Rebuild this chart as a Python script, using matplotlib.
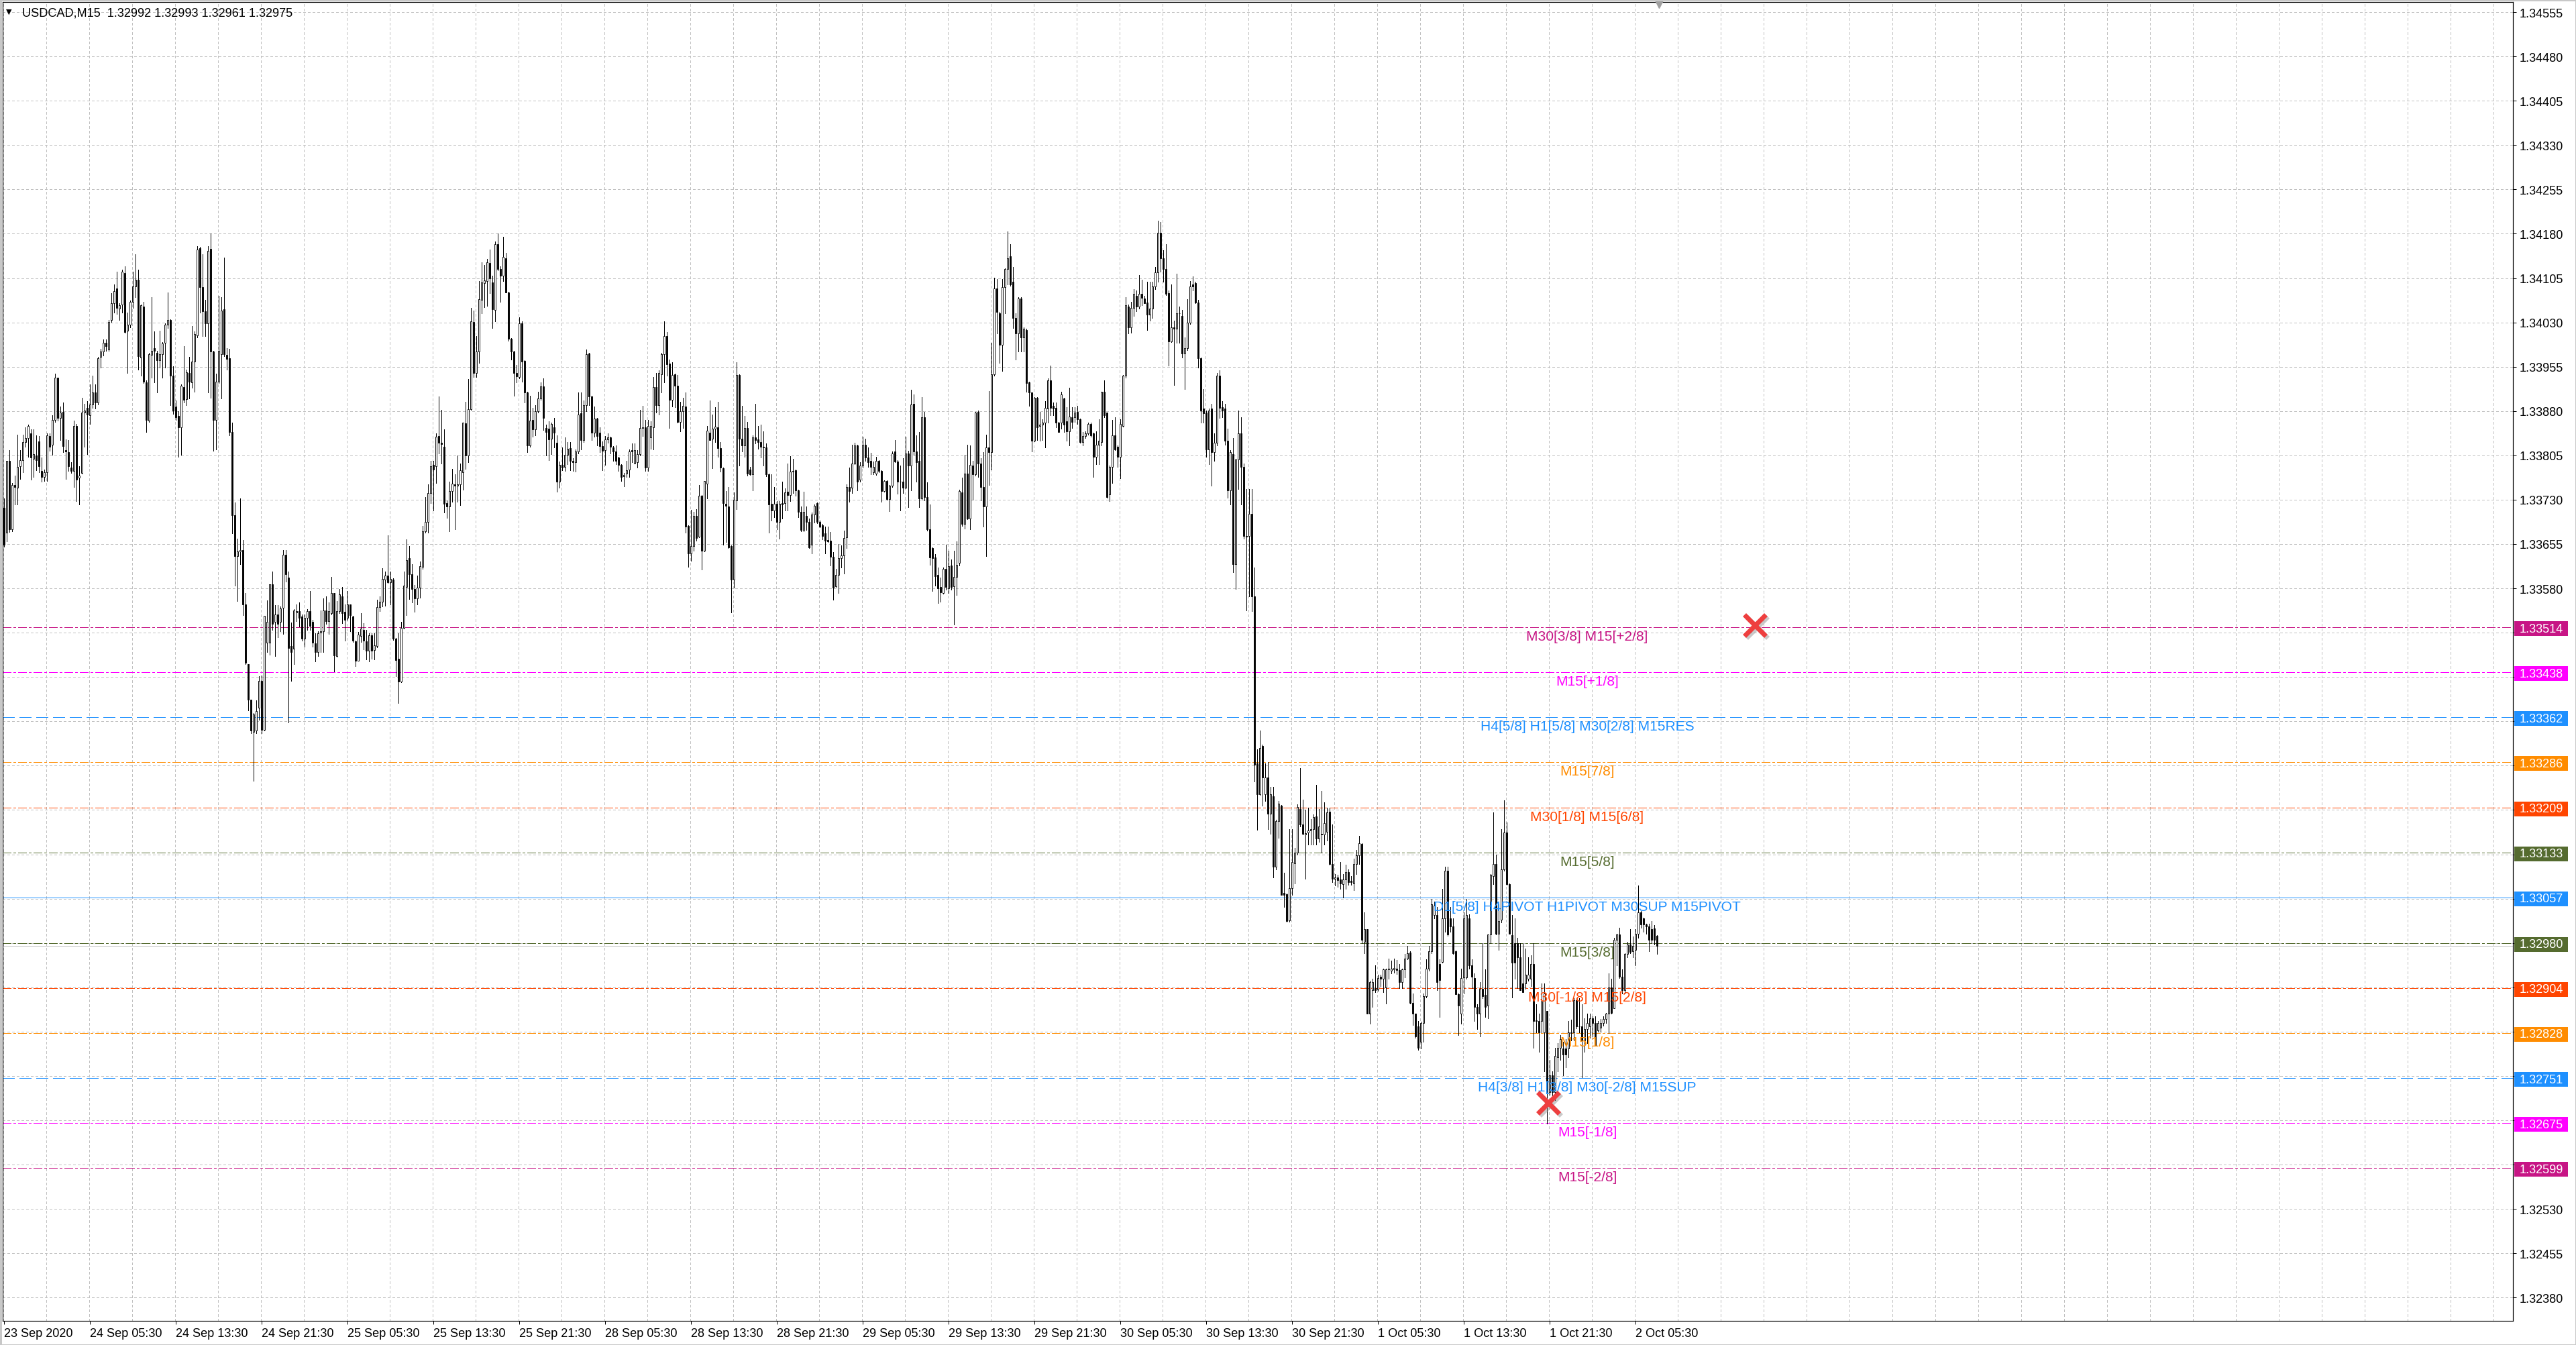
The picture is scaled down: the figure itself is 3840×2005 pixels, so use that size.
import numpy as np
import matplotlib
matplotlib.use("Agg")
import matplotlib.pyplot as plt
from matplotlib.patches import Rectangle
from matplotlib.lines import Line2D
from matplotlib.transforms import IdentityTransform, offset_copy

W, H, DPI = 3840, 2006, 100
PX = 72.0 / DPI  # points per pixel

plt.rcParams["font.family"] = ["Liberation Sans", "DejaVu Sans"]

# ---------------- data (prices in points above 1.30000) ----------------
SYMBOL = "USDCAD,M15"
PRICE_BASE = 1.30000
POINT = 0.00001

opens = [
    3716,3674,3796,3680,3755,3750,3787,3797,3827,3834,
    3842,3799,3805,3829,3779,3769,3777,3838,3823,3865,
    3937,3868,3879,3814,3810,3784,3779,3855,3767,3775,
    3877,3885,3873,3891,3912,3894,3972,3981,3996,3984,
    4034,4063,4088,4053,4060,4114,4016,4026,4065,4091,
    4102,3971,4057,3929,3864,3975,3987,3979,3966,3976,
    3995,4026,4034,3940,3888,3872,3852,3921,3900,3945,
    3929,3964,4008,4155,4090,4049,4028,4154,3981,3865,
    3930,3976,4052,3975,3969,3844,3704,3634,3643,3645,
    3553,3452,3392,3337,3340,3378,3423,3341,3488,3488,
    3587,3523,3536,3523,3547,3637,3598,3482,3478,3539,
    3542,3532,3495,3530,3541,3523,3487,3472,3505,3507,
    3543,3525,3538,3572,3466,3541,3567,3540,3530,3553,
    3532,3490,3458,3500,3510,3490,3475,3501,3476,3483,
    3548,3557,3595,3602,3590,3595,3495,3461,3422,3513,
    3582,3631,3604,3579,3563,3581,3616,3677,3692,3741,
    3789,3787,3838,3826,3820,3724,3718,3745,3756,3754,
    3756,3776,3859,3805,3883,4031,3944,3981,4068,4097,
    4100,4131,4098,4051,4162,4120,4109,4139,4081,4002,
    3981,3945,3938,4028,3965,3911,3822,3865,3849,3880,
    3901,3922,3851,3850,3833,3853,3826,3760,3789,3786,
    3806,3817,3796,3793,3812,3876,3831,3890,3977,3905,
    3843,3867,3843,3821,3814,3832,3836,3818,3812,3801,
    3789,3770,3774,3781,3814,3791,3793,3807,3851,3853,
    3784,3836,3853,3921,3890,3942,3976,4007,3960,3899,
    3942,3923,3862,3880,3888,3686,3639,3652,3703,3668,
    3737,3644,3757,3843,3833,3850,3853,3817,3783,3723,
    3719,3652,3595,3729,3941,3833,3822,3851,3781,3773,
    3836,3832,3828,3820,3818,3773,3723,3712,3723,3693,
    3724,3724,3743,3738,3778,3780,3746,3710,3679,3703,
    3693,3654,3705,3724,3692,3687,3673,3662,3661,3633,
    3583,3603,3631,3636,3666,3752,3750,3791,3822,3764,
    3788,3823,3801,3796,3776,3774,3796,3779,3745,3762,
    3731,3754,3812,3795,3760,3761,3750,3808,3788,3892,
    3812,3796,3732,3869,3735,3680,3648,3632,3603,3582,
    3572,3613,3580,3619,3584,3599,3623,3742,3689,3774,
    3698,3788,3773,3879,3791,3752,3718,3818,3811,3942,
    4088,4046,3992,4090,4120,4142,4099,4037,4011,4070,
    4005,4017,3929,3911,3830,3903,3855,3857,3860,3884,
    3932,3889,3885,3861,3861,3901,3863,3846,3870,3870,
    3879,3866,3828,3838,3842,3858,3842,3802,3823,3828,
    3913,3877,3739,3786,3839,3820,3802,3855,3940,4057,
    4022,4054,4075,4057,4078,4070,4064,4043,4053,4091,
    4115,4182,4139,4120,4080,3998,4022,4019,4045,4041,
    3977,3987,4030,4094,4096,4064,3969,3884,3877,3815,
    3884,3810,3826,3940,3887,3884,3830,3746,3807,3621,
    3798,3842,3786,3669,3669,3706,3567,3284,3232,3313,
    3232,3260,3199,3228,3109,3186,3212,3065,3063,3018,
    3073,3115,3133,3207,3181,3164,3167,3170,3173,3194,
    3157,3165,3164,3168,3202,3113,3089,3091,3088,3079,
    3088,3100,3085,3081,3114,3128,3148,2982,3003,2860,
    2900,2904,2901,2923,2919,2905,2935,2933,2935,2937,
    2934,2914,2935,2954,2964,2879,2860,2839,2813,2844,
    2890,2937,2966,3027,3027,2945,2948,3022,3102,3022,
    3008,2966,2893,2860,2922,2922,3022,2942,2921,2872,
    2860,2902,2892,2874,2994,3093,3114,2996,3019,3104,
    3167,3079,2993,2980,2980,2956,2912,2912,2919,2919,
    2944,2849,2848,2848,2829,2865,2728,2756,2728,2787,
    2803,2801,2801,2801,2827,2829,2883,2839,2839,2815,
    2834,2839,2853,2844,2832,2837,2844,2851,2860,2905,
    2869,2985,2994,2923,2900,2961,2977,2966,2968,2996,
    3032,3022,3011,3008,3003,3005,2992,
]

highs = [
    3732,3796,3814,3758,3771,3840,3814,3840,3852,3857,
    3849,3849,3839,3838,3801,3781,3842,3842,3873,3943,
    3937,3888,3894,3832,3831,3794,3864,3858,3787,3903,
    3892,3897,3925,3940,3925,3972,3985,4001,4001,4034,
    4080,4094,4116,4063,4119,4125,4047,4067,4116,4145,
    4119,4060,4065,3932,3979,4073,4015,3982,4016,3997,
    4029,4081,4035,3956,3898,3880,3925,3990,3950,3972,
    4024,4015,4159,4158,4145,4068,4159,4180,3982,3943,
    4075,4073,4140,3986,3985,3860,3725,3664,3732,3662,
    3572,3452,3392,3369,3391,3431,3432,3533,3560,3587,
    3608,3552,3552,3550,3645,3645,3608,3522,3545,3553,
    3556,3536,3536,3545,3575,3527,3504,3507,3543,3563,
    3566,3556,3599,3572,3558,3579,3582,3553,3576,3553,
    3534,3492,3506,3538,3521,3510,3504,3504,3504,3561,
    3567,3614,3608,3670,3609,3597,3496,3504,3523,3609,
    3663,3652,3621,3586,3602,3625,3686,3735,3756,3796,
    3796,3842,3905,3882,3849,3729,3760,3782,3773,3805,
    3791,3861,3896,3934,4055,4050,4007,4100,4132,4127,
    4137,4153,4109,4167,4181,4125,4175,4148,4082,4003,
    3982,3958,4039,4032,3966,3913,3906,3885,3890,3913,
    3929,3935,3857,3863,3861,3868,3839,3795,3819,3836,
    3828,3828,3800,3815,3911,3912,3898,3984,3978,3906,
    3888,3868,3853,3829,3838,3842,3837,3821,3822,3802,
    3790,3775,3796,3815,3825,3825,3814,3882,3889,3865,
    3865,3863,3938,3944,3949,3979,4032,4014,3967,3963,
    3943,3941,3896,3902,3911,3687,3713,3710,3714,3755,
    3738,3762,3855,3898,3874,3887,3896,3827,3784,3745,
    3751,3653,3742,3963,3942,3889,3872,3862,3785,3839,
    3892,3855,3857,3846,3825,3774,3773,3752,3728,3728,
    3760,3749,3791,3804,3799,3781,3747,3719,3744,3719,
    3698,3708,3722,3725,3695,3689,3684,3684,3675,3641,
    3613,3655,3653,3678,3756,3784,3823,3826,3823,3793,
    3837,3833,3819,3809,3795,3803,3797,3780,3763,3763,
    3755,3812,3831,3797,3788,3800,3837,3813,3916,3908,
    3839,3844,3904,3879,3759,3722,3649,3638,3615,3598,
    3615,3654,3644,3629,3644,3660,3747,3767,3806,3823,
    3822,3796,3879,3881,3800,3810,3840,3914,3996,4106,
    4103,4048,4103,4122,4184,4162,4124,4045,4073,4073,
    4022,4019,3930,3912,3904,3904,3879,3866,3897,3935,
    3957,3895,3895,3862,3913,3902,3887,3919,3887,3887,
    3889,3867,3845,3846,3860,3860,3843,3846,3866,3913,
    3932,3878,3788,3865,3869,3822,3866,3941,4073,4060,
    4065,4086,4084,4110,4102,4075,4099,4099,4099,4124,
    4202,4200,4152,4162,4084,4094,4033,4112,4057,4051,
    4005,4069,4100,4108,4099,4068,3970,3917,3881,3884,
    3892,3842,3945,3949,3897,3892,3850,3814,3834,3799,
    3881,3869,3791,3748,3748,3748,3615,3308,3339,3316,
    3284,3286,3244,3244,3189,3220,3213,3099,3064,3173,
    3173,3141,3215,3276,3223,3205,3209,3190,3197,3248,
    3207,3237,3218,3209,3209,3181,3097,3095,3117,3097,
    3112,3105,3093,3123,3137,3161,3149,3032,3004,2916,
    2919,2942,2926,2926,2937,2937,2954,2950,2953,2951,
    2945,2937,2961,2975,2966,2895,2861,2848,2847,2895,
    2952,2975,3055,3050,3041,2952,3072,3109,3109,3041,
    3022,2967,2895,2937,3032,3055,3029,2952,2928,2876,
    2914,2980,2935,2994,3096,3201,3130,3046,3173,3221,
    3184,3081,3027,3022,2989,2980,2980,2970,2956,2959,
    2980,2876,2860,2912,2912,2865,2782,2763,2803,2810,
    2824,2813,2817,2848,2850,2886,2886,2886,2876,2853,
    2860,2860,2856,2856,2848,2851,2856,2862,2928,2919,
    2989,2996,3006,2935,2963,2982,3003,2991,3003,3077,
    3034,3023,3013,3013,3017,3010,2993,
]

lows = [
    3650,3660,3675,3677,3722,3722,3765,3777,3820,3803,
    3764,3769,3780,3777,3760,3762,3762,3813,3806,3862,
    3864,3831,3810,3765,3779,3775,3751,3728,3722,3774,
    3820,3807,3858,3885,3884,3891,3953,3974,3982,3982,
    4031,4047,4044,4034,4047,4012,3945,4022,4055,4073,
    3950,3940,3927,3845,3862,3937,3928,3912,3953,3936,
    3953,4021,3890,3875,3865,3803,3806,3894,3890,3901,
    3919,3913,4005,4047,4007,4007,3911,3903,3813,3815,
    3927,3901,3973,3950,3839,3673,3585,3559,3621,3535,
    3452,3374,3335,3254,3335,3358,3335,3339,3472,3468,
    3510,3465,3497,3507,3503,3592,3353,3424,3452,3525,
    3515,3491,3481,3510,3510,3481,3456,3465,3472,3472,
    3520,3503,3536,3439,3464,3538,3521,3492,3527,3507,
    3489,3448,3457,3489,3477,3460,3456,3461,3460,3480,
    3541,3550,3551,3589,3553,3493,3431,3386,3421,3512,
    3535,3562,3556,3540,3553,3564,3613,3674,3674,3724,
    3712,3758,3808,3791,3708,3699,3676,3727,3680,3727,
    3721,3747,3782,3793,3882,3938,3938,3961,4046,4056,
    4058,4079,4021,4032,4118,4065,4100,4081,3999,3967,
    3906,3929,3935,3930,3894,3810,3820,3837,3839,3877,
    3899,3848,3805,3797,3807,3819,3743,3750,3780,3779,
    3790,3780,3779,3778,3808,3815,3828,3880,3890,3831,
    3837,3822,3810,3780,3789,3826,3808,3796,3790,3779,
    3762,3753,3768,3768,3793,3791,3784,3805,3838,3779,
    3779,3816,3815,3877,3874,3912,3929,3940,3851,3888,
    3887,3861,3846,3851,3674,3616,3627,3644,3661,3666,
    3612,3643,3732,3831,3783,3828,3802,3778,3654,3658,
    3648,3539,3581,3714,3788,3812,3803,3771,3772,3746,
    3825,3816,3801,3788,3770,3674,3695,3700,3680,3664,
    3698,3712,3712,3728,3741,3737,3700,3676,3676,3679,
    3648,3639,3691,3690,3683,3663,3639,3658,3619,3561,
    3582,3572,3615,3605,3648,3727,3741,3790,3746,3761,
    3784,3796,3786,3773,3773,3772,3777,3727,3744,3730,
    3711,3752,3793,3740,3712,3741,3749,3717,3746,3806,
    3761,3717,3730,3729,3678,3620,3575,3585,3555,3557,
    3571,3578,3572,3578,3519,3569,3619,3686,3681,3697,
    3680,3730,3771,3768,3729,3684,3634,3755,3781,3940,
    4011,3962,3948,4046,4094,4092,4021,3967,3981,3981,
    3981,3913,3889,3812,3829,3831,3830,3831,3818,3860,
    3873,3873,3852,3844,3850,3844,3830,3822,3851,3862,
    3858,3826,3822,3834,3840,3837,3768,3790,3790,3822,
    3869,3733,3728,3758,3814,3786,3766,3854,3937,4011,
    4013,4041,4049,4053,4059,4062,4017,4033,4037,4086,
    4099,4116,4099,4076,3957,3997,3924,3995,3995,3971,
    3917,3983,4027,4084,4062,3953,3861,3861,3802,3790,
    3754,3796,3822,3868,3870,3823,3733,3722,3607,3579,
    3748,3722,3664,3543,3567,3541,3253,3171,3230,3212,
    3220,3173,3165,3091,3105,3158,3061,3041,3016,3016,
    3061,3081,3129,3177,3163,3089,3146,3146,3146,3146,
    3151,3133,3146,3153,3112,3083,3077,3075,3072,3057,
    3072,3078,3078,3069,3097,3114,2980,2963,2860,2843,
    2872,2897,2899,2907,2897,2878,2919,2928,2930,2927,
    2904,2904,2922,2952,2877,2841,2820,2799,2801,2813,
    2888,2933,2963,3022,2900,2855,2947,2999,2992,2999,
    2962,2893,2824,2843,2895,2920,2937,2904,2848,2834,
    2822,2886,2855,2852,2980,3079,2994,2968,3015,3102,
    3078,2996,2888,2919,2904,2900,2897,2903,2916,2907,
    2803,2829,2796,2829,2763,2674,2723,2716,2714,2763,
    2782,2756,2770,2787,2815,2815,2836,2829,2753,2796,
    2810,2820,2822,2806,2830,2830,2840,2845,2827,2860,
    2869,2942,2921,2895,2895,2956,2963,2956,2942,2989,
    3006,2999,2995,2966,2980,2977,2961,
]

closes = [
    3654,3796,3680,3755,3751,3786,3797,3827,3834,3855,
    3801,3807,3797,3787,3769,3777,3839,3820,3865,3937,
    3868,3878,3821,3812,3787,3779,3855,3764,3771,3877,
    3881,3874,3891,3911,3894,3969,3981,3996,3990,4031,
    4063,4083,4054,4059,4116,4014,4026,4065,4091,4102,
    3973,4059,3930,3865,3976,3982,3982,3966,3976,3994,
    4026,4034,3940,3881,3870,3852,3923,3899,3946,3930,
    3964,4010,4153,4090,4049,4028,4151,3981,3865,3930,
    3982,4050,3976,3968,3844,3704,3634,3643,3645,3553,
    3454,3392,3340,3367,3372,3423,3341,3533,3523,3587,
    3520,3536,3520,3546,3637,3604,3479,3472,3543,3541,
    3530,3495,3530,3541,3517,3488,3472,3504,3507,3543,
    3525,3541,3572,3467,3541,3570,3538,3527,3553,3535,
    3492,3457,3502,3512,3492,3475,3501,3475,3484,3548,
    3557,3596,3602,3590,3596,3495,3459,3422,3513,3585,
    3628,3604,3579,3563,3581,3618,3677,3692,3741,3787,
    3781,3837,3826,3824,3723,3718,3745,3757,3754,3756,
    3780,3860,3805,3883,4032,3944,3981,4069,4098,4101,
    4132,4104,4052,4162,4120,4109,4141,4081,4002,3981,
    3944,3939,4028,3964,3911,3822,3864,3849,3880,3901,
    3922,3868,3845,3832,3858,3843,3760,3789,3784,3806,
    3816,3796,3793,3812,3874,3831,3890,3976,3905,3843,
    3867,3838,3821,3813,3832,3836,3820,3812,3796,3789,
    3768,3772,3780,3812,3812,3814,3807,3851,3853,3784,
    3855,3855,3921,3890,3944,3976,4007,3959,3899,3941,
    3923,3862,3880,3889,3684,3639,3652,3703,3665,3737,
    3644,3762,3847,3831,3850,3854,3817,3784,3724,3720,
    3649,3595,3730,3941,3833,3822,3851,3774,3773,3836,
    3831,3828,3820,3818,3773,3722,3712,3723,3693,3723,
    3722,3742,3738,3778,3779,3746,3709,3679,3710,3693,
    3649,3705,3720,3693,3684,3669,3661,3660,3633,3581,
    3603,3631,3636,3665,3752,3745,3791,3822,3761,3788,
    3823,3801,3794,3786,3786,3796,3779,3745,3762,3731,
    3754,3808,3795,3760,3761,3750,3808,3788,3891,3812,
    3794,3732,3869,3735,3680,3632,3631,3600,3580,3573,
    3613,3582,3617,3582,3599,3620,3745,3689,3774,3698,
    3789,3773,3877,3791,3751,3718,3818,3811,3942,4088,
    4048,3992,4090,4120,4139,4094,4037,4011,4070,4005,
    4019,3927,3911,3830,3903,3852,3857,3861,3885,3932,
    3885,3884,3861,3845,3908,3857,3846,3871,3862,3878,
    3866,3828,3838,3842,3858,3839,3802,3823,3830,3913,
    3873,3734,3786,3839,3815,3802,3858,3940,4059,4022,
    4054,4078,4057,4078,4072,4062,4043,4053,4091,4115,
    4182,4139,4120,4078,3998,4022,4019,4045,4046,3977,
    3987,4030,4091,4091,4064,3969,3881,3876,3815,3881,
    3810,3826,3940,3885,3881,3830,3746,3810,3621,3798,
    3842,3786,3669,3668,3706,3567,3282,3232,3310,3260,
    3260,3199,3232,3109,3186,3216,3061,3061,3017,3073,
    3117,3133,3210,3181,3165,3166,3170,3173,3193,3157,
    3177,3163,3183,3201,3113,3089,3091,3086,3081,3088,
    3100,3083,3083,3114,3128,3149,2985,3003,2860,2914,
    2914,2900,2921,2919,2935,2935,2937,2937,2938,2934,
    2914,2935,2954,2963,2879,2860,2822,2803,2844,2890,
    2937,2966,3046,3043,2914,2917,3022,3102,2994,3008,
    2963,2893,2874,2921,3022,3027,2942,2923,2872,2860,
    2902,2890,2872,2994,3095,3114,2996,3017,3104,3167,
    3079,2996,2947,2947,2956,2900,2897,2926,2926,2944,
    2848,2848,2829,2881,2895,2728,2756,2728,2789,2803,
    2817,2791,2791,2829,2829,2883,2839,2839,2815,2834,
    2844,2853,2844,2806,2844,2844,2851,2860,2905,2862,
    2985,2994,2923,2900,2961,2977,2965,2975,2996,3032,
    3011,3011,3008,2985,2985,2985,2975,
]

x_labels = ["23 Sep 2020", "24 Sep 05:30", "24 Sep 13:30", "24 Sep 21:30",
            "25 Sep 05:30", "25 Sep 13:30", "25 Sep 21:30", "28 Sep 05:30",
            "28 Sep 13:30", "28 Sep 21:30", "29 Sep 05:30", "29 Sep 13:30",
            "29 Sep 21:30", "30 Sep 05:30", "30 Sep 13:30", "30 Sep 21:30",
            "1 Oct 05:30", "1 Oct 13:30", "1 Oct 21:30", "2 Oct 05:30"]
BARS_PER_LABEL = 32
BARS_PER_GRID = 16

y_tick_lo = 1.32380
y_tick_step = 0.00075
y_tick_n = 30

level_prices = [1.33514, 1.33438, 1.33362, 1.33286, 1.33209, 1.33133, 1.33057,
                1.32980, 1.32904, 1.32828, 1.32751, 1.32675, 1.32599]
level_names = ["M30[3/8] M15[+2/8]", "M15[+1/8]", "H4[5/8] H1[5/8] M30[2/8] M15RES",
               "M15[7/8]", "M30[1/8] M15[6/8]", "M15[5/8]",
               "D1[5/8] H4PIVOT H1PIVOT M30SUP M15PIVOT", "M15[3/8]",
               "M30[-1/8] M15[2/8]", "M15[1/8]", "H4[3/8] H1[3/8] M30[-2/8] M15SUP",
               "M15[-1/8]", "M15[-2/8]"]
level_colors = ["#C71585", "#FF00FF", "#1E90FF", "#FF8C00", "#FF4500", "#556B2F", "#1E90FF",
                "#556B2F", "#FF4500", "#FF8C00", "#1E90FF", "#FF00FF", "#C71585"]
level_kinds = ["dashdot", "dashdot", "dash", "dashdot", "dashdot", "dashdot", "solid",
               "dashdot", "dashdot", "dashdot", "dash", "dashdot", "dashdot"]

bid_price = 1.32975
cross_bars = [652.5, 575.5]
cross_prices = [1.33518, 1.32710]

# ---------------- prepare ----------------
if len({len(opens), len(highs), len(lows), len(closes)}) != 1:
    raise ValueError(f"length mismatch: {len(opens)} {len(highs)} {len(lows)} {len(closes)}")

o = PRICE_BASE + np.array(opens) * POINT
c = PRICE_BASE + np.array(closes) * POINT
hi = PRICE_BASE + np.maximum.reduce([np.array(highs), np.array(opens), np.array(closes)]) * POINT
lo = PRICE_BASE + np.minimum.reduce([np.array(lows), np.array(opens), np.array(closes)]) * POINT
n = len(o)
xb = np.arange(n)

# ---------------- figure ----------------
fig = plt.figure(figsize=(W / DPI, H / DPI), dpi=DPI)
fig.patch.set_facecolor("white")
L_PX, R_PX, T_PX, B_PX = 4, 3746, 4, 1970
ax = fig.add_axes([L_PX / W, 1 - B_PX / H, (R_PX - L_PX) / W, (B_PX - T_PX) / H])
ax.set_facecolor("white")
ax.set_xlim(-0.45, 935.05)
ax.set_ylim(1.3234058, 1.3457214)
for s in ax.spines.values():
    s.set_color("black")
    s.set_linewidth(1.2 * PX)

GRID = "#C0C0C0"
yt = y_tick_lo + y_tick_step * np.arange(y_tick_n)
for yv in yt:
    ax.axhline(yv, color=GRID, lw=PX, ls=(0, (4, 3)), zorder=1, antialiased=False)
for k in range(0, int(935 / BARS_PER_GRID) + 1):
    ax.axvline(k * BARS_PER_GRID - 0.125, color=GRID, lw=PX, ls=(0, (4, 3)), zorder=1,
               antialiased=False)

styles = {"dashdot": (0, (12, 4, 3, 4)), "dash": (0, (18, 7)), "solid": "-"}
for p, col, kind in zip(level_prices, level_colors, level_kinds):
    ax.axhline(p, color=col, lw=PX, ls=styles[kind], zorder=2, antialiased=False)
ax.axhline(bid_price, color="#C0C0C0", lw=PX, zorder=2, antialiased=False)

# candles
ax.vlines(xb, lo, hi, color="black", lw=PX, zorder=3, antialiased=False)
bull = c >= o
bear = ~bull
ax.bar(xb[bull], np.maximum(c[bull] - o[bull], 1e-7), bottom=o[bull], width=0.55,
       facecolor="white", edgecolor="black", linewidth=0.9 * PX, zorder=4, antialiased=True)
ax.bar(xb[bear], o[bear] - c[bear], bottom=c[bear], width=0.55,
       facecolor="black", edgecolor="black", linewidth=0.9 * PX, zorder=4, antialiased=True)

# level labels
LABEL_BAR = 590.05
for p, col, name in zip(level_prices, level_colors, level_names):
    ax.annotate(name, xy=(LABEL_BAR, p), xytext=(0, -4 * PX), textcoords="offset points",
                ha="center", va="top", color=col, fontsize=15.1, zorder=7)

# cross markers with shadow
shadow = offset_copy(ax.transData, fig=fig, x=3, y=-3, units="dots")
ax.plot(cross_bars, cross_prices, ls="none", marker="x", ms=32 * PX, mew=7 * PX,
        color="#888888", alpha=0.45, transform=shadow, zorder=8)
ax.plot(cross_bars, cross_prices, ls="none", marker="x", ms=32 * PX, mew=7 * PX,
        color="#EE3F3F", zorder=9)

# axes ticks (labels hidden under the level price boxes are left blank)
ax.yaxis.tick_right()
ax.set_yticks(yt)
covered = [any(abs(v - p) < 0.00012 for p in level_prices) for v in yt]
ax.set_yticklabels(["" if cov else f"{v:.5f}" for v, cov in zip(yt, covered)])
xt = np.arange(len(x_labels)) * BARS_PER_LABEL
ax.set_xticks(xt)
ax.set_xticklabels(x_labels)
for lab in ax.get_xticklabels():
    lab.set_horizontalalignment("left")
ax.tick_params(axis="y", which="both", direction="out", length=5 * PX, width=PX,
               pad=5 * PX, labelsize=13.1, colors="black", left=False, right=True,
               labelleft=False, labelright=True)
ax.tick_params(axis="x", direction="out", length=5 * PX, width=PX, pad=5 * PX,
               labelsize=13.1, colors="black")

# price boxes on the right
idt = IdentityTransform()
for p, col in zip(level_prices, level_colors):
    yd = ax.transData.transform((0, p))[1]
    fig.add_artist(Rectangle((3748, yd - 13), 80, 22, transform=idt, facecolor=col,
                             edgecolor="none", zorder=5))
    fig.text(3756, yd - 2, f"{p:.5f}", transform=idt, color="white", fontsize=13.1,
             va="center", ha="left", zorder=6)

# header
fig.text(9, H - 18, "\u25BC", transform=idt, fontsize=8, family="DejaVu Sans",
         va="center", ha="left", color="black")
header = f"{SYMBOL}  {o[-1]:.5f} {hi[-1]:.5f} {lo[-1]:.5f} {c[-1]:.5f}"
fig.text(33, H - 20, header, transform=idt, fontsize=13.1, va="center", ha="left",
         color="black")

# chart shift marker at top
fig.add_artist(Line2D([2473], [H - 7], transform=idt, marker="v", ms=9 * PX * 1.4,
                      color="#A0A0A0", ls="none"))

# window frame
fig.add_artist(Rectangle((0.5, 0.5), W - 1, H - 1, transform=idt, facecolor="none",
                         edgecolor="#C8C8C8", lw=3 * PX, zorder=10))

fig.savefig("out.png", dpi=DPI)
